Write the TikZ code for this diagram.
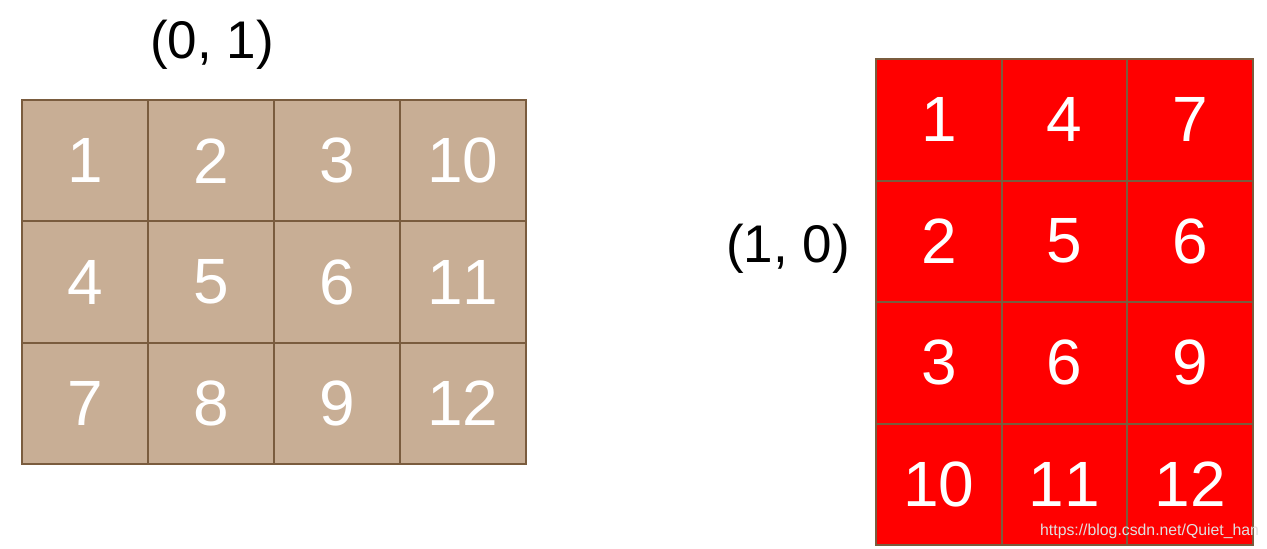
\documentclass[tikz,border=0pt]{standalone}
\usepackage{fontspec}
\setmainfont{Liberation Sans}
\newfontfamily\digitfont[Kerning=Off]{Liberation Sans}
\definecolor{tan}{HTML}{C8AE95}
\definecolor{edge}{HTML}{7A5C3E}
\definecolor{redfill}{HTML}{FF0000}
\begin{document}
\begin{tikzpicture}[x=1pt,y=-1pt,
  cellnum/.style={text=white,inner sep=0pt,font=\digitfont\fontsize{64}{64}\selectfont},
  axislabel/.style={text=black,inner sep=0pt,anchor=base,font=\fontsize{53}{53}\selectfont},
  gridline/.style={draw=edge,line width=2pt}]
\useasboundingbox (0,0) rectangle (1267,549);
% left grid
\fill[tan] (22,100) rectangle (526,464);
\foreach \i in {1,2,3}{\draw[gridline] ({22+126*\i},100) -- ({22+126*\i},464);}
\foreach \j in {1,2}{\draw[gridline] (22,{100+121.33*\j}) -- (526,{100+121.33*\j});}
\draw[gridline] (22,100) rectangle (526,464);
\foreach \n [count=\k from 0] in {1,2,3,10,4,5,6,11,7,8,9,12}{
  \pgfmathtruncatemacro{\c}{mod(\k,4)}
  \pgfmathtruncatemacro{\r}{div(\k,4)}
  \node[cellnum] (L\k) at ({22+126*\c+63},{100+121.33*\r+60.67}) {\n};
}
\node[axislabel] (lab01) at (212,58) {(0, 1)};
% right grid
\fill[redfill] (876,59) rectangle (1253,545);
\foreach \i in {1,2}{\draw[gridline] ({876+125.67*\i},59) -- ({876+125.67*\i},545);}
\foreach \j in {1,2,3}{\draw[gridline] (876,{59+121.5*\j}) -- (1253,{59+121.5*\j});}
\draw[gridline] (876,59) rectangle (1253,545);
\foreach \n [count=\k from 0] in {1,4,7,2,5,6,3,6,9,10,11,12}{
  \pgfmathtruncatemacro{\c}{mod(\k,3)}
  \pgfmathtruncatemacro{\r}{div(\k,3)}
  \node[cellnum] (R\k) at ({876+125.67*\c+62.83},{59+121.5*\r+60.75}) {\n};
}
\node[axislabel] (lab10) at (788,262) {(1, 0)};
% watermark
\begin{scope}
\clip (0,0) rectangle (1267,549);
\node[inner sep=0pt,anchor=base west,text=white!88!black,font=\fontsize{15.8}{15.8}\selectfont] (wm) at (1040,535) {https://blog.csdn.net/Quiet\_han};
\end{scope}
\end{tikzpicture}
\end{document}
